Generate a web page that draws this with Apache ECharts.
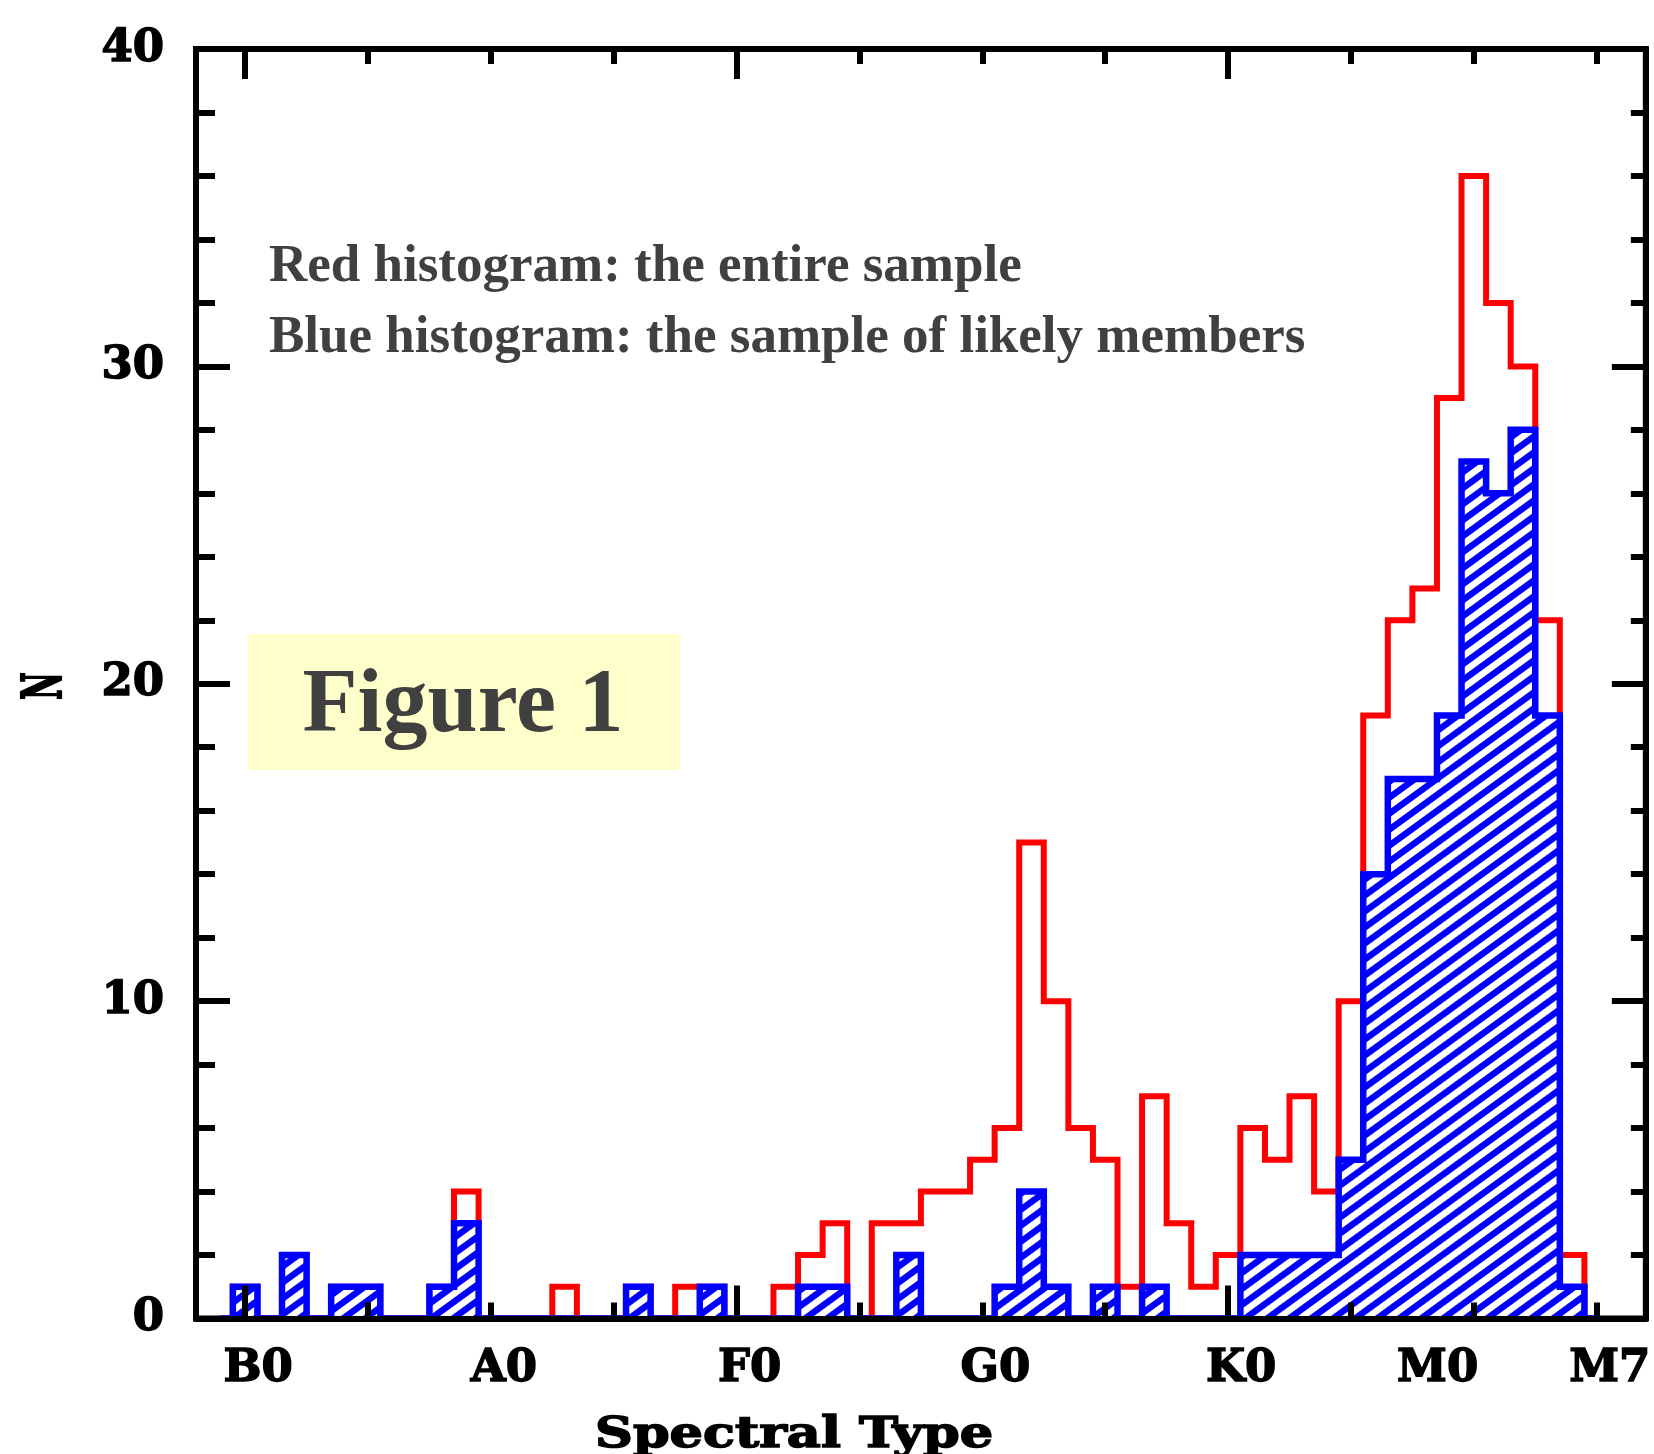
<!DOCTYPE html>
<html>
<head>
<meta charset="utf-8">
<script src="https://cdn.jsdelivr.net/npm/echarts@6/dist/echarts.min.js"></script>
<style>
  html, body { margin: 0; padding: 0; background: #ffffff; }
  #chart-container { width: 1654px; height: 1454px; }
</style>
</head>
<body>
<div id="chart-container"></div>
<script>
// spectral subtype index: B0 = 0, A0 = 10, F0 = 20, G0 = 30, K0 = 40, M0 = 48, M7 = 55
var subtypes = [0, 1, 2, 3, 4, 5, 6, 7, 8, 9, 10, 11, 12, 13, 14, 15, 16, 17, 18, 19,
  20, 21, 22, 23, 24, 25, 26, 27, 28, 29, 30, 31, 32, 33, 34, 35, 36, 37, 38, 39,
  40, 41, 42, 43, 44, 45, 46, 47, 48, 49, 50, 51, 52, 53, 54];
// entire sample
var redCounts = [1, 0, 2, 0, 1, 1, 0, 0, 1, 4, 0, 0, 0, 1, 0, 0, 1, 0, 1, 1,
  0, 0, 1, 2, 3, 0, 3, 3, 4, 4, 5, 6, 15, 10, 6, 5, 1, 7, 3, 1,
  2, 6, 5, 7, 4, 10, 19, 22, 23, 29, 36, 32, 30, 22, 2];
// likely members
var blueCounts = [1, 0, 2, 0, 1, 1, 0, 0, 1, 3, 0, 0, 0, 0, 0, 0, 1, 0, 0, 1,
  0, 0, 0, 1, 1, 0, 0, 2, 0, 0, 0, 1, 4, 1, 0, 1, 0, 1, 0, 0,
  0, 2, 2, 2, 2, 5, 14, 17, 17, 19, 27, 26, 28, 19, 1];
var labelValues = [0, 10, 20, 30, 40, 48, 55];
var labelNames = ['B0', 'A0', 'F0', 'G0', 'K0', 'M0', 'M7'];
var majorTicksX = [0, 20, 40];
var minorTicksX = [5, 10, 15, 25, 30, 35, 45, 50, 55];

// empty bins on both sides so the outline closes at zero
function stepData(counts) {
  var pts = [[subtypes[0] - 1, 0]];
  for (var i = 0; i < subtypes.length; i++) pts.push([subtypes[i], counts[i]]);
  pts.push([subtypes[subtypes.length - 1] + 1, 0]);
  return pts;
}

// diagonal hatch for the blue histogram
function makeHatch() {
  var w = 22, h = 16;
  var c = document.createElement('canvas');
  c.width = w; c.height = h;
  var ctx = c.getContext('2d');
  ctx.fillStyle = '#ffffff';
  ctx.fillRect(0, 0, w, h);
  ctx.strokeStyle = '#0000ff';
  ctx.lineWidth = 6.5;
  for (var n = -3; n <= 3; n++) {
    ctx.beginPath();
    ctx.moveTo(-w, h * (n + 2));
    ctx.lineTo(2 * w, h * (n - 1));
    ctx.stroke();
  }
  return c;
}

var chartDom = document.getElementById('chart-container');
var myChart = echarts.init(chartDom, null, { renderer: 'canvas' });

var black = { color: '#000000', width: 6 };
var axisFont = {
  fontFamily: 'DejaVu Serif', fontWeight: 'bold', fontSize: 45, color: '#000000',
  textBorderColor: '#000000', textBorderWidth: 1.5
};

function xAxisDef(position, ticks, len, showLine, showLabel) {
  return {
    type: 'value', min: -2, max: 57, position: position, z: 10,
    axisLine: { show: showLine, onZero: false, lineStyle: black },
    axisTick: { show: true, inside: true, length: len, customValues: ticks, lineStyle: black },
    axisLabel: showLabel ? Object.assign({
      show: true,
      customValues: labelValues,
      margin: 28,
      padding: [0, 0, 0, 26],
      formatter: function (v) {
        var i = labelValues.indexOf(v);
        return i >= 0 ? labelNames[i] : '';
      }
    }, axisFont) : { show: false },
    splitLine: { show: false }
  };
}

function yAxisDef(position, minorLen, showLabel) {
  return {
    type: 'value', min: 0, max: 40, interval: 10, position: position, z: 10,
    axisLine: { show: true, onZero: false, lineStyle: black },
    axisTick: { show: true, inside: true, length: 34, lineStyle: black },
    minorTick: { show: true, splitNumber: 5, length: minorLen, lineStyle: black },
    axisLabel: showLabel ? Object.assign({ show: true, margin: 32 }, axisFont) : { show: false },
    splitLine: { show: false }
  };
}

var option = {
  animation: false,
  backgroundColor: '#ffffff',
  grid: { left: 196, right: 8, top: 49, bottom: 135.5, show: true, borderColor: '#000', borderWidth: 6, backgroundColor: 'transparent' },
  xAxis: [
    xAxisDef('bottom', majorTicksX, 33, true, true),
    xAxisDef('bottom', minorTicksX, 16, false, false),
    xAxisDef('top', majorTicksX, 30, true, false),
    xAxisDef('top', minorTicksX, 15, false, false)
  ],
  yAxis: [
    yAxisDef('left', 19, true),
    yAxisDef('right', 15, false)
  ],
  series: [
    {
      name: 'Red histogram', type: 'line', step: 'middle',
      xAxisIndex: 0, yAxisIndex: 0,
      data: stepData(redCounts),
      symbol: 'none', silent: true, z: 2,
      lineStyle: { color: '#ff0000', width: 6, join: 'miter' }
    },
    {
      name: 'Blue histogram', type: 'line', step: 'middle',
      xAxisIndex: 0, yAxisIndex: 0,
      data: stepData(blueCounts),
      symbol: 'none', silent: true, z: 3,
      lineStyle: { color: '#0000ff', width: 6.5, join: 'miter' },
      areaStyle: { color: { image: makeHatch(), repeat: 'repeat' }, opacity: 1, origin: 'start' }
    }
  ],
  graphic: [
    { type: 'rect', shape: { x: 248, y: 634, width: 432, height: 136 }, style: { fill: '#ffffcc' }, z: 1 },
    { type: 'text', x: 463, y: 707.5, z: 5,
      style: { text: 'Figure 1', font: 'bold 90px "Liberation Serif"', fill: '#404040',
        align: 'center', textAlign: 'center', verticalAlign: 'middle', textVerticalAlign: 'middle' } },
    { type: 'text', x: 269, y: 267, z: 5,
      style: { text: 'Red histogram: the entire sample', font: 'bold 53px "Liberation Serif"', fill: '#404040',
        align: 'left', textAlign: 'left', verticalAlign: 'middle', textVerticalAlign: 'middle' } },
    { type: 'text', x: 269, y: 338.5, z: 5,
      style: { text: 'Blue histogram: the sample of likely members', font: 'bold 53px "Liberation Serif"', fill: '#404040',
        align: 'left', textAlign: 'left', verticalAlign: 'middle', textVerticalAlign: 'middle' } },
    { type: 'text', x: 794, y: 1436, scaleX: 1.25, z: 5,
      style: { text: 'Spectral Type', font: 'bold 42px "DejaVu Serif"', fill: '#000000',
        stroke: '#000000', lineWidth: 1.5,
        align: 'center', textAlign: 'center', verticalAlign: 'middle', textVerticalAlign: 'middle' } },
    { type: 'text', x: 47, y: 686, rotation: Math.PI / 2, scaleY: 1.8, z: 5,
      style: { text: 'N', font: 'bold 30px "DejaVu Serif"', fill: '#000000',
        stroke: '#000000', lineWidth: 1.2,
        align: 'center', textAlign: 'center', verticalAlign: 'middle', textVerticalAlign: 'middle' } }
  ]
};

option && myChart.setOption(option);
</script>
</body>
</html>
